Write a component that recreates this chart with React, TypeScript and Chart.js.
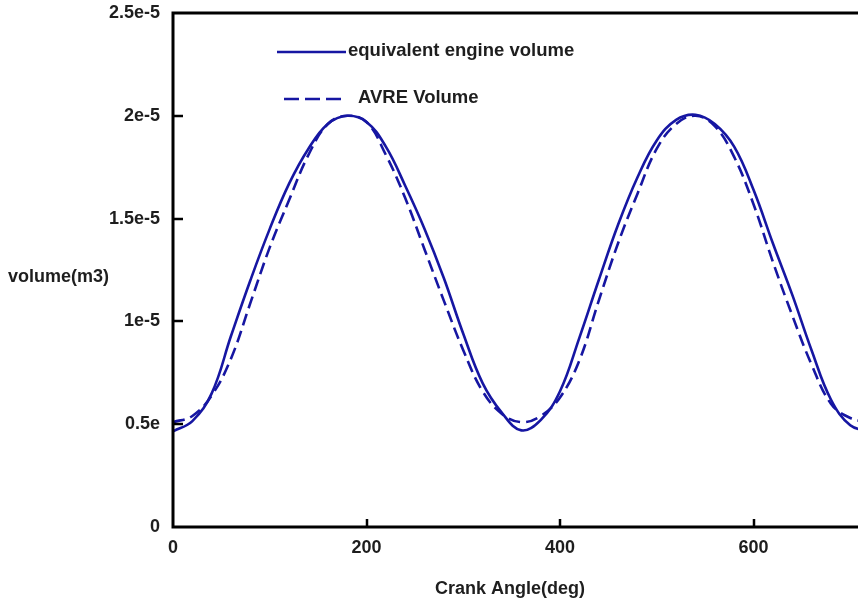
import { useEffect, useRef } from "react";
import { Chart, registerables } from "chart.js";

Chart.register(...registerables);

// Crank angle samples (deg)
const crankAngles = [
  0, 20, 40, 60, 80, 100, 120, 140, 160, 180, 200, 220, 240, 260, 280, 300, 320, 340, 360,
  380, 400, 420, 440, 460, 480, 500, 520, 540, 560, 580, 600, 620, 640, 660, 680, 700, 720,
];

// Equivalent engine volume (m3)
const engineVolume = [
  4.65e-6, 5.15e-6, 6.5e-6, 9.3e-6, 1.2e-5, 1.45e-5, 1.67e-5, 1.84e-5, 1.96e-5, 2.0e-5,
  1.97e-5, 1.85e-5, 1.66e-5, 1.45e-5, 1.21e-5, 9.4e-6, 7.0e-6, 5.55e-6, 4.7e-6,
  5.2e-6, 6.6e-6, 9.2e-6, 1.2e-5, 1.47e-5, 1.7e-5, 1.88e-5, 1.98e-5, 2.005e-5, 1.96e-5,
  1.85e-5, 1.64e-5, 1.38e-5, 1.13e-5, 8.6e-6, 6.2e-6, 4.95e-6, 4.65e-6,
];

// AVRE volume (m3)
const avreVolume = [
  5.1e-6, 5.4e-6, 6.4e-6, 8.2e-6, 1.09e-5, 1.36e-5, 1.59e-5, 1.81e-5, 1.96e-5, 2.0e-5,
  1.97e-5, 1.81e-5, 1.6e-5, 1.35e-5, 1.1e-5, 8.6e-6, 6.6e-6, 5.5e-6, 5.1e-6,
  5.4e-6, 6.3e-6, 8.1e-6, 1.1e-5, 1.38e-5, 1.62e-5, 1.84e-5, 1.96e-5, 2.0e-5, 1.95e-5,
  1.8e-5, 1.57e-5, 1.29e-5, 1.03e-5, 7.9e-6, 6.0e-6, 5.3e-6, 5.1e-6,
];

const seriesNames = ["equivalent engine volume", "AVRE Volume"];

const yTickValues = [0, 0.5e-5, 1e-5, 1.5e-5, 2e-5, 2.5e-5];
const yTickLabels = ["0", "0.5e", "1e-5", "1.5e-5", "2e-5", "2.5e-5"];
const xTickValues = [0, 200, 400, 600];

const xTitle = "Crank Angle(deg)";
const yTitle = "volume(m3)";

const LINE_COLOR = "#1616a2";
const TEXT_COLOR = "#1e1e1e";
const FONT_FAMILY = "'Liberation Sans', Arial, sans-serif";

// Frame, inward tick marks, horizontal axis titles and the line legend
const decorations = {
  id: "decorations",
  afterDatasetsDraw(chart: any) {
    const { ctx, chartArea } = chart;
    const xs = chart.scales.x;
    const ys = chart.scales.y;
    const { left, top, right, bottom } = chartArea;
    ctx.save();

    // frame: left, top and bottom edges
    ctx.strokeStyle = "#000";
    ctx.lineWidth = 3;
    ctx.lineCap = "square";
    ctx.beginPath();
    ctx.moveTo(right + 2, top);
    ctx.lineTo(left, top);
    ctx.lineTo(left, bottom);
    ctx.lineTo(right + 2, bottom);
    ctx.stroke();

    // inward tick marks
    ctx.lineWidth = 2.5;
    ctx.lineCap = "butt";
    ctx.beginPath();
    yTickValues.forEach((v) => {
      if (v === 0 || v === 2.5e-5) return;
      const py = Math.round(ys.getPixelForValue(v));
      ctx.moveTo(left, py);
      ctx.lineTo(left + 10, py);
    });
    xTickValues.forEach((v) => {
      if (v === 0) return;
      const px = Math.round(xs.getPixelForValue(v));
      ctx.moveTo(px, bottom);
      ctx.lineTo(px, bottom - 8);
    });
    ctx.stroke();

    // axis titles
    ctx.fillStyle = TEXT_COLOR;
    ctx.font = `bold 18px ${FONT_FAMILY}`;
    ctx.textBaseline = "middle";
    ctx.textAlign = "left";
    ctx.fillText(yTitle, 8, 277);
    ctx.textAlign = "center";
    ctx.fillText(xTitle, 510, 589);

    // legend
    const legendRows = [
      { y: 52, x0: 277, x1: 346, tx: 348, dash: [] as number[] },
      { y: 99, x0: 284, x1: 342, tx: 358, dash: [15, 6] },
    ];
    ctx.font = `bold 18.5px ${FONT_FAMILY}`;
    legendRows.forEach((row, i) => {
      ctx.strokeStyle = LINE_COLOR;
      ctx.lineWidth = 2.6;
      ctx.setLineDash(row.dash);
      ctx.beginPath();
      ctx.moveTo(row.x0, row.y);
      ctx.lineTo(row.x1, row.y);
      ctx.stroke();
      ctx.setLineDash([]);
      ctx.fillStyle = TEXT_COLOR;
      ctx.textAlign = "left";
      ctx.fillText(seriesNames[i], row.tx, row.y - 1);
    });

    ctx.restore();
  },
};

export default function App() {
  const canvasRef = useRef<HTMLCanvasElement | null>(null);

  useEffect(() => {
    document.body.style.margin = "0";
    const canvas = canvasRef.current;
    if (!canvas) return;

    const toPoints = (vals: number[]) => crankAngles.map((a, i) => ({ x: a, y: vals[i] }));

    const chart = new Chart(canvas, {
      type: "line",
      data: {
        datasets: [
          {
            label: seriesNames[0],
            data: toPoints(engineVolume),
            borderColor: LINE_COLOR,
            borderWidth: 2.6,
            pointRadius: 0,
            tension: 0.4,
            fill: false,
          },
          {
            label: seriesNames[1],
            data: toPoints(avreVolume),
            borderColor: LINE_COLOR,
            borderWidth: 2.6,
            borderDash: [12, 6],
            pointRadius: 0,
            tension: 0.4,
            fill: false,
          },
        ],
      },
      options: {
        animation: false,
        responsive: false,
        layout: { padding: { top: 13, right: 0, left: 0, bottom: 0 } },
        plugins: {
          legend: { display: false },
          tooltip: { enabled: false },
        },
        scales: {
          x: {
            type: "linear",
            min: 0,
            max: 708,
            grid: { display: false, drawTicks: false },
            border: { display: false },
            afterBuildTicks: (scale: any) => {
              scale.ticks = xTickValues.map((v) => ({ value: v }));
            },
            afterFit: (scale: any) => {
              scale.height = 73;
              scale.paddingLeft = 0;
              scale.paddingRight = 0;
            },
            ticks: {
              padding: 10,
              maxRotation: 0,
              color: TEXT_COLOR,
              font: { family: FONT_FAMILY, size: 18, weight: "bold" },
              callback: (v: any) => String(v),
            },
          },
          y: {
            type: "linear",
            min: 0,
            max: 2.5e-5,
            grid: { display: false, drawTicks: false },
            border: { display: false },
            afterBuildTicks: (scale: any) => {
              scale.ticks = yTickValues.map((v) => ({ value: v }));
            },
            afterFit: (scale: any) => {
              scale.width = 173;
              scale.paddingTop = 0;
              scale.paddingBottom = 0;
            },
            ticks: {
              padding: 13,
              color: TEXT_COLOR,
              font: { family: FONT_FAMILY, size: 18, weight: "bold" },
              callback: (_v: any, i: number) => yTickLabels[i],
            },
          },
        },
      },
      plugins: [decorations],
    });

    return () => chart.destroy();
  }, []);

  return (
    <div style={{ position: "absolute", left: 0, top: 0, width: 858, height: 600, background: "#fff" }}>
      <canvas ref={canvasRef} width={858} height={600} style={{ display: "block" }} />
    </div>
  );
}
